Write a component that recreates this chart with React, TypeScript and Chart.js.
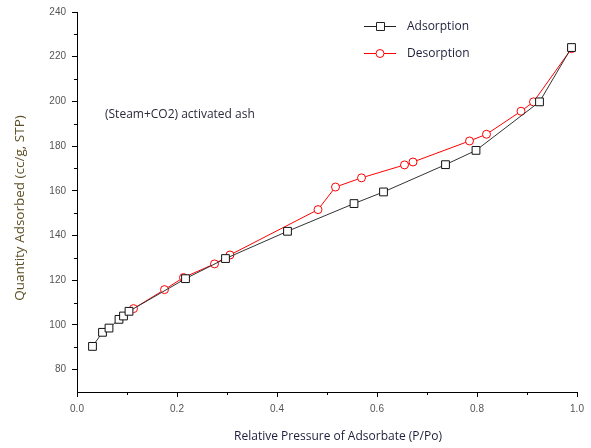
import React, { useEffect, useRef } from "react";
import { Chart, registerables } from "chart.js";

Chart.register(...registerables);

const adsorptionX = [0.031, 0.051, 0.064, 0.084, 0.093, 0.104, 0.217, 0.297, 0.421, 0.554, 0.613, 0.737, 0.798, 0.925, 0.989];
const adsorptionY = [90.4, 96.7, 98.6, 102.5, 104.0, 106.1, 120.7, 129.7, 141.9, 154.3, 159.5, 171.7, 178.1, 199.8, 224.1];

const desorptionX = [0.113, 0.175, 0.213, 0.275, 0.306, 0.482, 0.517, 0.569, 0.655, 0.672, 0.785, 0.819, 0.888, 0.913, 0.989];
const desorptionY = [107.3, 115.8, 121.2, 127.3, 131.3, 151.6, 161.7, 165.8, 171.6, 172.9, 182.3, 185.3, 195.6, 199.8, 223.6];

const yTicks = [80, 100, 120, 140, 160, 180, 200, 220, 240];
const yMinorTicks = [90, 110, 130, 150, 170, 190, 210, 230];
const xMinorTicks = [0.1, 0.3, 0.5, 0.7, 0.9];

const seriesNames = ["Adsorption", "Desorption"];
const annotationText = "(Steam+CO2) activated ash";
const xTitle = "Relative Pressure of Adsorbate (P/Po)";
const yTitle = "Quantity Adsorbed (cc/g, STP)";

const TEXT_FONT = "'Open Sans', 'DejaVu Sans', sans-serif";

const overlayPlugin = {
  id: "overlay",
  afterDraw(chart: any) {
    const ctx = chart.ctx as CanvasRenderingContext2D;
    const xs = chart.scales.x;
    const ys = chart.scales.y;
    ctx.save();
    // minor ticks
    ctx.strokeStyle = "#000";
    ctx.lineWidth = 1;
    ctx.beginPath();
    for (const v of yMinorTicks) {
      const py = Math.round(ys.getPixelForValue(v)) + 0.5;
      ctx.moveTo(xs.left - 3, py);
      ctx.lineTo(xs.left, py);
    }
    for (const v of xMinorTicks) {
      const px = Math.round(xs.getPixelForValue(v)) + 0.5;
      ctx.moveTo(px, ys.bottom);
      ctx.lineTo(px, ys.bottom + 3);
    }
    ctx.stroke();

    ctx.textBaseline = "middle";

    // x axis title
    ctx.fillStyle = "#1e1e3c";
    ctx.font = `12px ${TEXT_FONT}`;
    ctx.textAlign = "center";
    ctx.fillText(xTitle, 338, 437);

    // y axis title
    ctx.save();
    ctx.translate(20, 208);
    ctx.rotate(-Math.PI / 2);
    ctx.fillStyle = "#5e5026";
    ctx.font = `13.5px ${TEXT_FONT}`;
    ctx.fillText(yTitle, 0, 0);
    ctx.restore();

    // annotation
    ctx.fillStyle = "#2a2a3a";
    ctx.font = `12px ${TEXT_FONT}`;
    ctx.textAlign = "left";
    ctx.fillText(annotationText, 105, 115);

    // legend
    const items = [
      { name: seriesNames[0], color: "#222", style: "rect", y: 26 },
      { name: seriesNames[1], color: "#ff0000", style: "circle", y: 53 },
    ];
    for (const it of items) {
      ctx.strokeStyle = it.color;
      ctx.lineWidth = 1;
      ctx.beginPath();
      ctx.moveTo(364, it.y + 0.5);
      ctx.lineTo(396, it.y + 0.5);
      ctx.stroke();
      ctx.fillStyle = "#fff";
      ctx.beginPath();
      if (it.style === "rect") {
        ctx.rect(376.5, it.y - 3.5, 8, 8);
      } else {
        ctx.arc(380, it.y + 0.5, 4, 0, Math.PI * 2);
      }
      ctx.fill();
      ctx.stroke();
      ctx.fillStyle = "#1e1e3c";
      ctx.font = `12px ${TEXT_FONT}`;
      ctx.fillText(it.name, 407, it.y + 1);
    }
    ctx.restore();
  },
};

export default function App() {
  const ref = useRef<HTMLCanvasElement | null>(null);
  useEffect(() => {
    if (!ref.current) return;
    const chart = new Chart(ref.current, {
      type: "line",
      data: {
        datasets: [
          {
            label: seriesNames[0],
            data: adsorptionX.map((x, i) => ({ x, y: adsorptionY[i] })),
            borderColor: "#333333",
            borderWidth: 1,
            pointStyle: "rect",
            pointRadius: 5.5,
            pointBorderColor: "#111",
            pointBackgroundColor: "#fff",
            pointBorderWidth: 1,
            tension: 0,
          },
          {
            label: seriesNames[1],
            data: desorptionX.map((x, i) => ({ x, y: desorptionY[i] })),
            borderColor: "#ff0000",
            borderWidth: 1,
            pointStyle: "circle",
            pointRadius: 4,
            pointBorderColor: "#ff0000",
            pointBackgroundColor: "#fff",
            pointBorderWidth: 1,
            tension: 0,
          },
        ],
      },
      options: {
        animation: false,
        responsive: false,
        maintainAspectRatio: false,
        layout: { padding: { left: 0, right: 14, top: 12, bottom: 0 } },
        plugins: { legend: { display: false }, tooltip: { enabled: false } },
        scales: {
          x: {
            type: "linear",
            min: 0,
            max: 1,
            border: { display: true, color: "#000", width: 1 },
            grid: { drawOnChartArea: false, color: "#000", tickLength: 5 },
            ticks: {
              stepSize: 0.2,
              color: "#555",
              padding: 6,
              font: { family: "'Liberation Sans', Arial, sans-serif", size: 10 },
              callback: (v: any) => Number(v).toFixed(1),
            },
            afterFit: (s: any) => {
              s.height = 56;
            },
          },
          y: {
            type: "linear",
            min: 70,
            max: 240,
            border: { display: true, color: "#000", width: 1 },
            grid: { drawOnChartArea: false, color: "#000", tickLength: 5 },
            afterBuildTicks: (s: any) => {
              s.ticks = yTicks.map((v) => ({ value: v }));
            },
            ticks: {
              color: "#555",
              padding: 6,
              font: { family: "'Liberation Sans', Arial, sans-serif", size: 10 },
            },
            afterFit: (s: any) => {
              s.width = 77;
            },
          },
        },
      },
      plugins: [overlayPlugin],
    });
    return () => chart.destroy();
  }, []);
  return (
    <div style={{ position: "fixed", left: 0, top: 0, width: 591, height: 448, background: "#fff" }}>
      <canvas ref={ref} width={591} height={448} style={{ width: 591, height: 448 }} />
    </div>
  );
}
